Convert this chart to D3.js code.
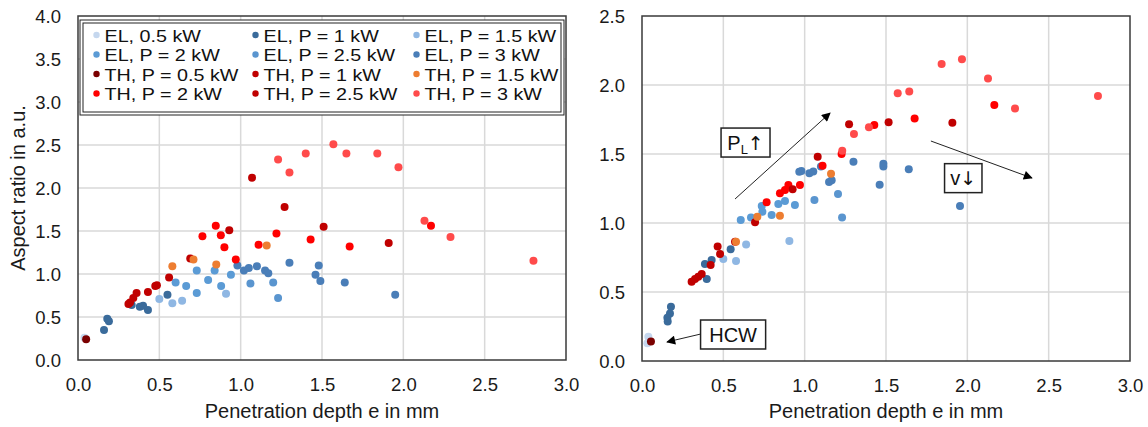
<!DOCTYPE html>
<html><head><meta charset="utf-8">
<script src="https://cdn.jsdelivr.net/npm/d3@7"></script>
<style>
html,body{margin:0;padding:0;background:#fff;}
svg{display:block;font-family:"Liberation Sans",Arial,sans-serif;}
</style></head>
<body>
<svg id="chart" width="1148" height="427"></svg>
<script>
// ---------- DATA ----------
const seriesNames = ["EL, 0.5 kW","EL, P = 1 kW","EL, P = 1.5 kW","EL, P = 2 kW","EL, P = 2.5 kW","EL, P = 3 kW",
                     "TH, P = 0.5 kW","TH, P = 1 kW","TH, P = 1.5 kW","TH, P = 2 kW","TH, P = 2.5 kW","TH, P = 3 kW"];
const seriesColors = ["#c5d7ee","#3a6b9b","#8fb7e3","#5b9bd5","#5a95cf","#4a7eb8",
                      "#7b0000","#c00000","#ed7d31","#ff0000","#c00000","#ff4b4b"];
const xTicks = [0,0.5,1,1.5,2,2.5,3];
const yTicksLeft = [0,0.5,1,1.5,2,2.5,3,3.5,4];
const yTicksRight = [0,0.5,1,1.5,2,2.5];

// left chart: [penetration depth, aspect ratio]
const leftEL05 = [[0.04,0.26]];
const leftEL1  = [[0.16,0.35],[0.18,0.48],[0.19,0.45],[0.33,0.64],[0.38,0.62],[0.40,0.63],[0.43,0.58],[0.55,0.76]];
const leftEL15 = [[0.50,0.71],[0.58,0.66],[0.64,0.69],[0.91,0.77]];
const leftEL2  = [[0.60,0.90],[0.665,0.86],[0.73,0.78],[0.73,1.04],[0.80,0.93],[0.84,1.04],[0.88,0.86],[0.94,0.99]];
const leftEL25 = [[1.06,0.89],[1.20,0.90],[1.23,0.72]];
const leftEL3  = [[0.98,1.10],[1.02,1.04],[1.05,1.07],[1.10,1.09],[1.15,1.04],[1.17,1.01],[1.30,1.13],[1.48,1.10],[1.46,0.99],[1.49,0.92],[1.64,0.90],[1.95,0.76]];
const leftTH05 = [[0.05,0.24]];
const leftTH1  = [[0.31,0.65],[0.32,0.67],[0.34,0.72],[0.36,0.78],[0.43,0.79],[0.475,0.86],[0.485,0.87],[0.56,0.96],[0.69,1.18]];
const leftTH15 = [[0.58,1.09],[0.71,1.17],[0.85,1.11],[1.16,1.33]];
const leftTH2  = [[0.765,1.44],[0.847,1.56],[0.878,1.45],[0.90,1.31],[0.97,1.17],[1.11,1.34],[1.22,1.47],[1.43,1.40],[1.67,1.32],[2.17,1.56]];
const leftTH25 = [[0.93,1.51],[1.07,2.12],[1.27,1.78],[1.51,1.55],[1.91,1.36]];
const leftTH3  = [[1.23,2.33],[1.30,2.18],[1.40,2.40],[1.57,2.51],[1.65,2.40],[1.84,2.40],[1.97,2.24],[2.13,1.62],[2.29,1.43],[2.80,1.155]];

// right chart
const rightEL05 = [[0.039,0.176],[0.033,0.128]];
const rightEL1  = [[0.178,0.394],[0.172,0.345],[0.156,0.314],[0.158,0.287],[0.398,0.594],[0.387,0.703],[0.428,0.732],[0.545,0.81]];
const rightEL15 = [[0.50,0.739],[0.578,0.725],[0.64,0.845],[0.906,0.87]];
const rightEL2  = [[0.607,1.022],[0.67,1.039],[0.74,1.082],[0.736,1.123],[0.797,1.058],[0.838,1.138],[0.879,1.16],[0.94,1.13]];
const rightEL25 = [[1.06,1.167],[1.205,1.21],[1.23,1.039]];
const rightEL3  = [[0.967,1.372],[0.98,1.377],[1.029,1.36],[1.053,1.374],[1.10,1.41],[1.15,1.297],[1.166,1.31],[1.30,1.444],[1.484,1.43],[1.484,1.41],[1.461,1.278],[1.64,1.39],[1.955,1.123]];
const rightTH05 = [[0.055,0.142]];
const rightTH1  = [[0.305,0.575],[0.326,0.594],[0.346,0.611],[0.367,0.63],[0.422,0.696],[0.465,0.829],[0.48,0.775],[0.572,0.865],[0.695,1.005]];
const rightTH15 = [[0.578,0.865],[0.709,1.046],[0.848,1.053],[1.162,1.357]];
const rightTH2  = [[0.766,1.15],[0.848,1.215],[0.879,1.239],[0.90,1.275],[0.971,1.275],[1.11,1.415],[1.227,1.5],[1.428,1.71],[1.676,1.758],[2.166,1.855]];
const rightTH25 = [[0.926,1.244],[1.08,1.48],[1.273,1.715],[1.516,1.73],[1.908,1.727]];
const rightTH3  = [[1.231,1.524],[1.303,1.645],[1.395,1.693],[1.572,1.94],[1.643,1.952],[1.842,2.152],[1.967,2.186],[2.127,2.048],[2.293,1.83],[2.803,1.92]];

const leftSeries  = [leftEL05,leftEL1,leftEL15,leftEL2,leftEL25,leftEL3,leftTH05,leftTH1,leftTH15,leftTH2,leftTH25,leftTH3];
const rightSeries = [rightEL05,rightEL1,rightEL15,rightEL2,rightEL25,rightEL3,rightTH05,rightTH1,rightTH15,rightTH2,rightTH25,rightTH3];

const xTitle = "Penetration depth e in mm";
const yTitle = "Aspect ratio in a.u.";

// ---------- DRAW ----------
const svg = d3.select("#chart");
const defs = svg.append("defs");
defs.append("marker").attr("id","ah").attr("viewBox","0 0 10 10").attr("refX",9).attr("refY",5)
  .attr("markerWidth",11).attr("markerHeight",9).attr("markerUnits","userSpaceOnUse").attr("orient","auto")
  .append("path").attr("d","M0,0 L10,5 L0,10 Z").attr("fill","#000");

function panel(opt){
  const x = d3.scaleLinear().domain([0,3]).range([opt.l,opt.r]);
  const y = d3.scaleLinear().domain([0,opt.ymax]).range([opt.b,opt.t]);
  const g = svg.append("g");
  g.selectAll(".gx").data(xTicks.filter(d=>d>0&&d<3)).enter().append("line")
    .attr("x1",d=>x(d)).attr("x2",d=>x(d)).attr("y1",opt.t).attr("y2",opt.b)
    .attr("stroke","#d9d9d9").attr("stroke-width",1.5);
  g.selectAll(".gy").data(opt.yTicks.filter(d=>d>0&&d<opt.ymax)).enter().append("line")
    .attr("y1",d=>y(d)).attr("y2",d=>y(d)).attr("x1",opt.l).attr("x2",opt.r)
    .attr("stroke","#d9d9d9").attr("stroke-width",1.5);
  const ax = g.append("g").attr("transform",`translate(0,${opt.b})`)
    .call(d3.axisBottom(x).tickValues(xTicks).tickFormat(d3.format(".1f")).tickSize(0).tickPadding(0));
  ax.select(".domain").remove();
  ax.selectAll("text").attr("y",31).attr("dy",0).attr("font-size",18.5).attr("fill","#1a1a1a")
    .attr("font-family","'Liberation Sans',Arial,sans-serif");
  const ay = g.append("g").attr("transform",`translate(${opt.l},0)`)
    .call(d3.axisLeft(y).tickValues(opt.yTicks).tickFormat(d3.format(".1f")).tickSize(0).tickPadding(0));
  ay.select(".domain").remove();
  ay.selectAll("text").attr("x",-17).attr("dy","0.36em").attr("font-size",18.5).attr("fill","#1a1a1a")
    .attr("font-family","'Liberation Sans',Arial,sans-serif");
  g.append("text").attr("x",(opt.l+opt.r)/2).attr("y",418).attr("text-anchor","middle")
    .attr("font-size",20).attr("fill","#1a1a1a").text(xTitle);
  if(opt.yTitle){
    g.append("text").attr("transform",`translate(25,${(opt.t+opt.b)/2}) rotate(-90)`)
      .attr("text-anchor","middle").attr("font-size",20).attr("fill","#1a1a1a").text(yTitle);
  }
  return {x,y,g};
}

function dots(p, seriesArr){
  seriesArr.forEach((arr,i)=>{
    p.g.append("g").selectAll("circle").data(arr).enter().append("circle")
      .attr("cx",d=>p.x(d[0])).attr("cy",d=>p.y(d[1])).attr("r",4)
      .attr("fill",seriesColors[i]);
  });
}
function frame(opt){
  svg.append("rect").attr("x",opt.l).attr("y",opt.t).attr("width",opt.r-opt.l).attr("height",opt.b-opt.t)
    .attr("fill","none").attr("stroke","#3a3a3a").attr("stroke-width",1.5);
}

const L = {l:78,r:566,t:16,b:360,ymax:4,yTicks:yTicksLeft,yTitle:true};
const R = {l:642,r:1130,t:16,b:361,ymax:2.5,yTicks:yTicksRight,yTitle:false};
const pL = panel(L);
dots(pL,leftSeries);
frame(L);

// legend
const lg = svg.append("g");
lg.append("rect").attr("x",80).attr("y",20).attr("width",484).attr("height",95).attr("fill","#fff").attr("stroke","#222").attr("stroke-width",1);
lg.append("rect").attr("x",83).attr("y",23).attr("width",478).attr("height",89).attr("fill","none").attr("stroke","#222").attr("stroke-width",1);
const colX = [96.5,255.5,416.5];
const rowY = [35,54.5,74,93.5];
seriesNames.forEach((n,i)=>{
  const cx = colX[i%3], cy = rowY[Math.floor(i/3)];
  lg.append("circle").attr("cx",cx).attr("cy",cy).attr("r",3.2).attr("fill",seriesColors[i]);
  const t = lg.append("text").attr("x",cx+8).attr("y",cy+6.5).attr("font-size",17).attr("fill","#111").text(n);
  const w = t.node().getComputedTextLength();
  t.attr("textLength",w*1.16).attr("lengthAdjust","spacingAndGlyphs");
});

const pR = panel(R);
dots(pR,rightSeries);
frame(R);

// annotations (right chart), placed in data coordinates
const ann = svg.append("g");
function arrow(x1,y1,x2,y2){
  ann.append("line").attr("x1",pR.x(x1)).attr("y1",pR.y(y1)).attr("x2",pR.x(x2)).attr("y2",pR.y(y2))
    .attr("stroke","#222").attr("stroke-width",1).attr("marker-end","url(#ah)");
}
arrow(0.572,1.174,1.156,1.797);
arrow(1.776,1.594,2.397,1.326);
arrow(0.363,0.196,0.154,0.138);

function box(x0,y0,x1,y1){
  ann.append("rect").attr("x",pR.x(x0)).attr("y",pR.y(y0)).attr("width",pR.x(x1)-pR.x(x0)).attr("height",pR.y(y1)-pR.y(y0))
    .attr("fill","#fff").attr("stroke","#222").attr("stroke-width",1.5);
  return {cx:(pR.x(x0)+pR.x(x1))/2, cy:(pR.y(y0)+pR.y(y1))/2};
}
const b1 = box(0.486,1.688,0.787,1.478);
const t1 = ann.append("text").attr("x",b1.cx).attr("y",b1.cy+7).attr("text-anchor","middle").attr("font-size",20).attr("fill","#111");
t1.append("tspan").text("P");
t1.append("tspan").attr("font-size",13).attr("dy",4).text("L");
t1.append("tspan").attr("dy",-4).attr("font-family","'DejaVu Sans',sans-serif").attr("font-size",19).text("↑");
const b2 = box(1.86,1.43,2.09,1.22);
const t2 = ann.append("text").attr("x",b2.cx).attr("y",b2.cy+7).attr("text-anchor","middle").attr("font-size",20).attr("fill","#111");
t2.append("tspan").text("v");
t2.append("tspan").attr("font-family","'DejaVu Sans',sans-serif").attr("font-size",19).text("↓");
const b3 = box(0.36,0.297,0.76,0.087);
ann.append("text").attr("x",b3.cx).attr("y",b3.cy+7).attr("text-anchor","middle").attr("font-size",20).attr("fill","#111").text("HCW");
</script>
</body></html>
